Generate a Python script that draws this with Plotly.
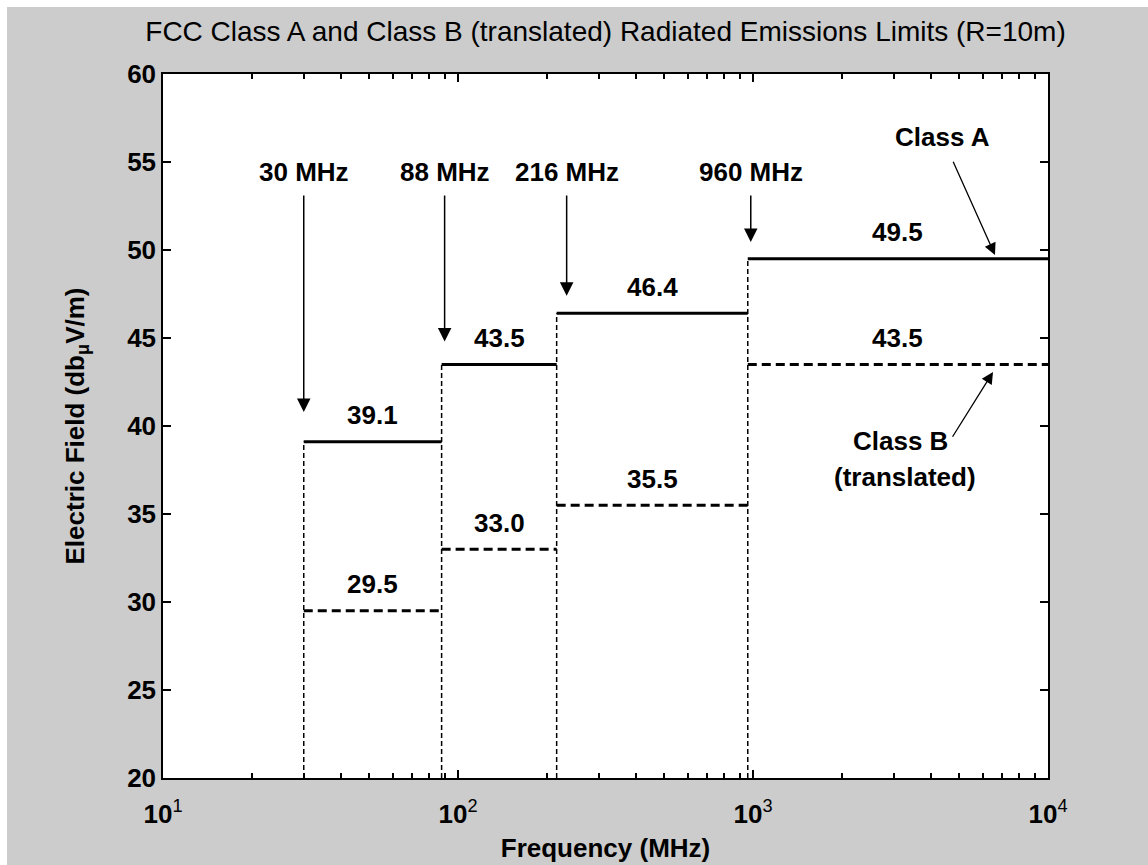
import math
import plotly.graph_objects as go

# ---------------- data ----------------
band_edges = [30, 88, 216, 960, 10000]          # MHz
class_a = [39.1, 43.5, 46.4, 49.5]               # dBuV/m, Class A
class_b = [29.5, 33.0, 35.5, 43.5]               # dBuV/m, Class B (translated)
edge_labels = ["30 MHz", "88 MHz", "216 MHz", "960 MHz"]
x_tick_vals = [10, 100, 1000, 10000]
x_tick_exps = [1, 2, 3, 4]
y_range = [20, 60]
x_minor_vals = [m * 10 ** d for d in (1, 2, 3) for m in range(2, 10)]

# ---------------- layout constants ----------------
W, H = 1148, 865
L, R, T, B = 163, 1048, 74, 778
BG = "#cccccc"
FONT = "Liberation Sans, Arial, Helvetica, sans-serif"
FS = 26

fig = go.Figure()

# vertical dotted separators at the band edges
vx, vy = [], []
for i, lv in enumerate(class_a):
    vx += [band_edges[i], band_edges[i], None]
    vy += [y_range[0], lv, None]
fig.add_trace(go.Scatter(x=vx, y=vy, mode="lines",
                         line=dict(color="black", width=1.5, dash="5px,3px"),
                         hoverinfo="skip", showlegend=False))

def steps(levels):
    xs, ys = [], []
    for i, lv in enumerate(levels):
        xs += [band_edges[i], band_edges[i + 1], None]
        ys += [lv, lv, None]
    return xs, ys

ax_, ay_ = steps(class_a)
fig.add_trace(go.Scatter(x=ax_, y=ay_, mode="lines", name="Class A",
                         line=dict(color="black", width=3), showlegend=False))
bx_, by_ = steps(class_b)
fig.add_trace(go.Scatter(x=bx_, y=by_, mode="lines", name="Class B",
                         line=dict(color="black", width=3, dash="9px,5px"),
                         showlegend=False))

ann = []
bold = dict(family=FONT, size=FS, color="black", weight="bold")

# value labels above each segment
for levels in (class_a, class_b):
    for i, lv in enumerate(levels):
        xm = (math.log10(band_edges[i]) + math.log10(band_edges[i + 1])) / 2
        ann.append(dict(x=xm, y=lv + 1.5, xref="x", yref="y", text=f"{lv:.1f}",
                        showarrow=False, font=bold, xanchor="center", yanchor="middle"))

# band-edge labels, each with its own down-pointing arrow
edge_xshift = [0, 3, 10, 3]
arrow_tip = [40.8, 44.8, 47.4, 50.45]
label_y = 54.43
for i, lab in enumerate(edge_labels):
    xl = math.log10(band_edges[i])
    ann.append(dict(x=xl, y=arrow_tip[i], xref="x", yref="y", ax=xl, ay=label_y,
                    axref="x", ayref="y", text=lab, font=bold,
                    showarrow=True, arrowhead=2, arrowsize=1.8, arrowwidth=1.5,
                    arrowcolor="black", standoff=0, startstandoff=7,
                    xshift=edge_xshift[i]))

# Class A / Class B callouts
ann.append(dict(x=3.8203, y=49.72, xref="x", yref="y", ax=3.641, ay=56.42,
                axref="x", ayref="y", text="Class A", font=bold,
                showarrow=True, arrowhead=2, arrowsize=1.8, arrowwidth=1.3,
                arrowcolor="black", standoff=0, startstandoff=9))
ann.append(dict(x=3.8136, y=43.07, xref="x", yref="y", ax=3.6675, ay=39.15,
                axref="x", ayref="y", text="Class B", font=bold,
                xanchor="right", yanchor="middle",
                showarrow=True, arrowhead=2, arrowsize=1.8, arrowwidth=1.3,
                arrowcolor="black", standoff=0, startstandoff=5))
ann.append(dict(x=3.515, y=37.1, xref="x", yref="y", text="(translated)",
                showarrow=False, font=bold, xanchor="center", yanchor="middle"))

pw, ph = R - L, B - T
shapes = [
    # thin white border strips at the top and left of the image
    dict(type="rect", xref="paper", yref="paper", layer="above",
         x0=-L / pw, x1=(7 - L) / pw, y0=-(H - B) / ph, y1=1 + T / ph,
         fillcolor="white", line=dict(width=0)),
    dict(type="rect", xref="paper", yref="paper", layer="above",
         x0=-L / pw, x1=(W - L) / pw, y0=1 + (T - 7) / ph, y1=1 + T / ph,
         fillcolor="white", line=dict(width=0)),
]

axis_common = dict(showline=True, linecolor="black", linewidth=1.5, mirror="ticks",
                   ticks="inside", ticklen=8, tickwidth=1.5, tickcolor="black",
                   showgrid=False, zeroline=False, automargin=False)

fig.update_layout(
    width=W, height=H,
    margin=dict(l=L, r=W - R, t=T, b=H - B, pad=0, autoexpand=False),
    paper_bgcolor=BG, plot_bgcolor="white",
    font=dict(family=FONT, size=FS, color="black"),
    title=dict(text="FCC Class A and Class B (translated) Radiated Emissions Limits (R=10m)",
               font=dict(family=FONT, size=28, color="black"),
               x=0.5, xref="paper", y=1 - 31 / H, yref="container", yanchor="middle",
               automargin=False),
    xaxis=dict(type="log", range=[1, 4], tickmode="array", tickvals=x_tick_vals,
               ticktext=[f"<b>10</b><sup>{e}</sup>" for e in x_tick_exps],
               tickfont=dict(family=FONT, size=FS, color="black"),
               ticklabelstandoff=12,
               minor=dict(tickmode="array", tickvals=x_minor_vals, ticks="inside",
                          ticklen=5, tickwidth=1.5, tickcolor="black", showgrid=False),
               title=dict(text="Frequency (MHz)", font=bold, standoff=11),
               **axis_common),
    yaxis=dict(range=y_range, dtick=5, tick0=20,
               tickfont=bold,
               title=dict(text="Electric Field (db<sub>μ</sub>V/m)", font=bold, standoff=35),
               **axis_common),
    annotations=ann,
    shapes=shapes,
)

fig.write_html("out.html")
